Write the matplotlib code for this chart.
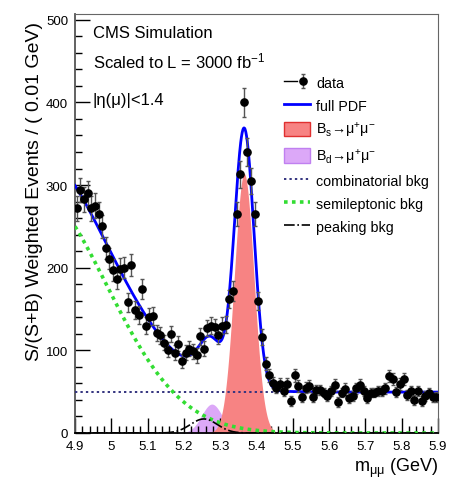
import numpy as np
import matplotlib
matplotlib.use("Agg")
import matplotlib.pyplot as plt
from matplotlib.lines import Line2D
from matplotlib.patches import Patch
from matplotlib.legend_handler import HandlerTuple

plt.rcParams['font.family'] = ['Liberation Sans', 'DejaVu Sans']
plt.rcParams['mathtext.fontset'] = 'custom'
plt.rcParams['mathtext.rm'] = 'Liberation Sans'
plt.rcParams['mathtext.it'] = 'Liberation Sans:italic'
plt.rcParams['mathtext.bf'] = 'Liberation Sans:bold'

# Dimuon mass binning (0.01 GeV bins)
mass_lo, mass_hi, bin_width = 4.9, 5.9, 0.01

# S/(S+B) weighted events per bin
counts = [272, 294, 283, 290, 272, 275, 265, 250, 224, 211,
          197, 186, 199, 200, 158, 203, 149, 143, 174, 130,
          140, 142, 121, 118, 109, 101, 120, 97, 108, 87,
          97, 102, 99, 94, 117, 102, 127, 130, 128, 118,
          130, 131, 162, 172, 265, 313, 400, 340, 305, 265,
          160, 116, 84, 70, 61, 55, 59, 51, 59, 39,
          70, 57, 43, 55, 57, 43, 52, 52, 49, 45,
          51, 58, 38, 49, 53, 42, 45, 54, 58, 51,
          42, 49, 49, 51, 51, 54, 69, 65, 50, 59,
          65, 46, 51, 40, 51, 39, 45, 49, 43, 44]
errors = [15, 15, 15, 15, 15, 15, 15, 14, 13, 13,
          13, 12, 13, 13, 11, 13, 11, 11, 12, 10,
          11, 11, 10, 10, 9, 9, 10, 9, 9, 8,
          9, 9, 9, 9, 10, 9, 10, 10, 10, 10,
          10, 10, 11, 12, 15, 16, 18, 17, 16, 15,
          11, 10, 8, 8, 7, 7, 7, 6, 7, 6,
          8, 7, 6, 7, 7, 6, 6, 6, 6, 6,
          6, 7, 6, 6, 7, 6, 6, 7, 7, 6,
          6, 6, 6, 6, 6, 7, 7, 7, 6, 7,
          7, 6, 6, 6, 6, 6, 6, 6, 6, 6]

# Fit model components (yields per bin)
comb_level = 49.5
semi_norm, semi_slope, semi_curv = 250.0, 2.8, 11.8
bs_amp, bs_mean, bs_sigma = 314.0, 5.366, 0.027
bd_amp, bd_mean, bd_sigma = 35.0, 5.277, 0.028
peak_amp, peak_mean, peak_sigma = 17.0, 5.255, 0.037

edges = np.arange(mass_lo, mass_hi + bin_width / 2, bin_width)
centers = 0.5 * (edges[:-1] + edges[1:])

m = np.linspace(mass_lo, mass_hi, 1000)


def gauss(x, a, mu, s):
    return a * np.exp(-0.5 * ((x - mu) / s) ** 2)


comb = np.full_like(m, comb_level)
d = m - mass_lo
semi = semi_norm * np.exp(-semi_slope * d - semi_curv * d ** 2)
bs = gauss(m, bs_amp, bs_mean, bs_sigma)
bd = gauss(m, bd_amp, bd_mean, bd_sigma)
peak = gauss(m, peak_amp, peak_mean, peak_sigma)
full = comb + semi + bs + bd + peak

W, H = 459, 481
fig = plt.figure(figsize=(W / 100, H / 100), dpi=100)
ax = fig.add_axes([75 / W, 1 - 434 / H, (438 - 75) / W, (434 - 15) / H])

bd_col = '#DCA8F8'
bs_col = '#F78383'
ax.fill_between(m, 0, bd, color=bd_col, lw=0, zorder=1)
ax.fill_between(m, 0, bs, color=bs_col, lw=0, zorder=2)
ax.plot(m, comb, ls=(0, (1.2, 1.6)), color='#33337F', lw=1.4, zorder=3)
ax.plot(m, semi, ls=(0, (1, 1.2)), color='#33DD33', lw=2.6, zorder=3)
ax.plot(m, peak, ls='-.', color='black', lw=1.2, zorder=3)
ax.plot(m, full, color='#0000FF', lw=2.0, zorder=4)
eb = ax.errorbar(centers, counts, yerr=errors, fmt='o', color='black',
                 ms=5.2, ecolor='#555555', elinewidth=1.0, capsize=1.5,
                 capthick=1.0, zorder=5)

ax.set_xlim(mass_lo, mass_hi)
ax.set_ylim(0, 507)
ax.set_xticks(np.round(np.arange(4.9, 5.91, 0.1), 1))
ax.set_xticklabels(['4.9', '5', '5.1', '5.2', '5.3', '5.4', '5.5', '5.6',
                    '5.7', '5.8', '5.9'])
ax.set_xticks(np.arange(4.9, 5.9001, 0.02), minor=True)
ax.set_yticks([0, 100, 200, 300, 400, 500])
ax.set_yticks(np.arange(0, 507, 20), minor=True)
ax.tick_params(which='major', direction='in', length=11, width=1.0,
               labelsize=9.5, pad=5, top=False, right=False)
ax.tick_params(which='minor', direction='in', length=5, width=1.0,
               top=False, right=False)
for s in ['left', 'bottom']:
    ax.spines[s].set_linewidth(1.3)
ax.spines['left'].set_color('#555555')
for s in ['top', 'right']:
    ax.spines[s].set_linewidth(0.8)
    ax.spines[s].set_color('#666666')

ax.set_xlabel(r'm$_{\mathregular{\mu\mu}}$ (GeV)', fontsize=13, loc='right')
ax.xaxis.set_label_coords(1.0, -0.081)
ax.xaxis.label.set_va('center')
ax.set_ylabel('S/(S+B) Weighted Events / ( 0.01 GeV)', fontsize=14, loc='top')
ax.yaxis.set_label_coords(-0.087, 0.983)

tx = (93 - 75) / 363
ax.text(tx, 0.955, 'CMS Simulation', transform=ax.transAxes, fontsize=12,
        va='center', ha='left')
ax.text(tx, 0.888, r'Scaled to L = 3000 fb$^{\mathregular{-1}}$',
        transform=ax.transAxes, fontsize=12, va='center', ha='left')
ax.text(tx, 0.797, '|η(μ)|<1.4', transform=ax.transAxes, fontsize=12,
        va='center', ha='left')

data_line = Line2D([], [], color='black', lw=1.0)
handles = [
    (data_line, eb),
    Line2D([], [], color='#0000FF', lw=2.0),
    Patch(facecolor=bs_col, edgecolor='#E03030', lw=1.0),
    Patch(facecolor=bd_col, edgecolor='#C080F0', lw=1.0),
    Line2D([], [], ls=(0, (1.2, 1.6)), color='#33337F', lw=1.4),
    Line2D([], [], ls=(0, (1, 1.2)), color='#33DD33', lw=2.6),
    Line2D([], [], ls='-.', color='black', lw=1.2),
]
labels = [
    'data',
    'full PDF',
    r'B$_{\mathregular{s}}$→μ$^{\mathregular{+}}$μ$^{\mathregular{-}}$',
    r'B$_{\mathregular{d}}$→μ$^{\mathregular{+}}$μ$^{\mathregular{-}}$',
    'combinatorial bkg',
    'semileptonic bkg',
    'peaking bkg',
]
fig.legend(handles, labels, loc='upper left',
           bbox_to_anchor=(277 / W, 1 - 69 / H), bbox_transform=fig.transFigure,
           frameon=False, fontsize=10.3, handlelength=1.8, handleheight=1.2,
           handletextpad=0.45, labelspacing=0.52, borderpad=0,
           handler_map={tuple: HandlerTuple(ndivide=None, pad=0)})

fig.savefig('out.png', dpi=100)
